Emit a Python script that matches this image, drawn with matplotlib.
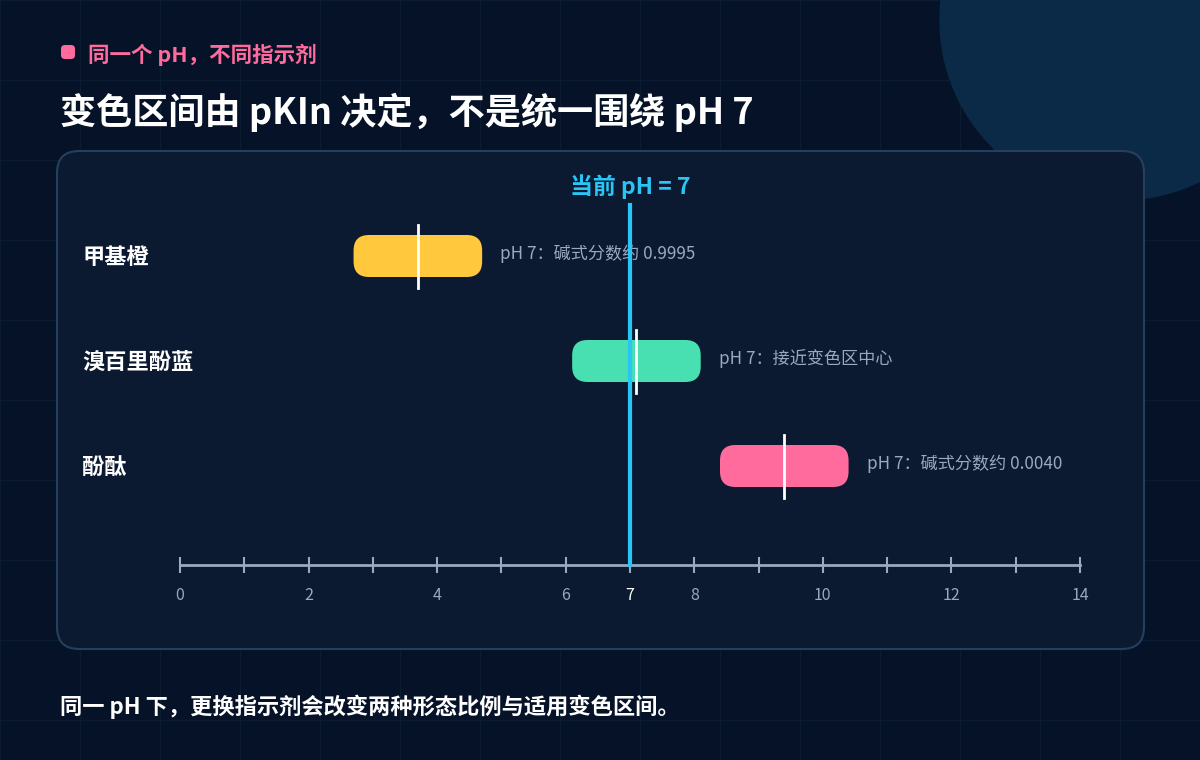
import matplotlib
matplotlib.use("Agg")
import matplotlib.pyplot as plt
from matplotlib.patches import FancyBboxPatch, Circle
import numpy as np

plt.rcParams['font.family'] = ['Noto Sans CJK SC', 'DejaVu Sans']

indicators = ["甲基橙", "溴百里酚蓝", "酚酞"]
pkin = [3.7, 7.1, 9.4]
range_lo = [2.7, 6.1, 8.4]
range_hi = [4.7, 8.1, 10.4]
colors = ["#ffc83d", "#48e0b0", "#ff6b9d"]
notes = ["pH 7：碱式分数约 0.9995", "pH 7：接近变色区中心", "pH 7：碱式分数约 0.0040"]
current_ph = 7
ticks = list(range(0, 15))
tick_labels = [str(t) if (t % 2 == 0 or t == 7) else "" for t in ticks]

W, H = 1200, 760
fig = plt.figure(figsize=(12, 7.6), dpi=100)
fig.patch.set_facecolor("#061227")

bg = fig.add_axes([0, 0, 1, 1])
bg.set_xlim(0, W); bg.set_ylim(H, 0); bg.axis("off")
for gx in np.arange(0, W + 1, 80):
    bg.axvline(gx, color="#0a1c30", lw=1, zorder=0)
for gy in np.arange(0, H + 1, 80):
    bg.axhline(gy, color="#0a1c30", lw=1, zorder=0)
bg.add_patch(Circle((1120, 20), 180, color="#0b2a48", zorder=1))
bg.add_patch(FancyBboxPatch((57, 151), 1087, 498, boxstyle="round,pad=0,rounding_size=22",
                            fc="#0b1a31", ec="#24405e", lw=1.5, zorder=2))
bg.add_patch(FancyBboxPatch((61, 45), 14, 14, boxstyle="round,pad=0,rounding_size=4",
                            fc="#ff6b9d", ec="none", zorder=3))
bg.text(88, 55, "同一个 pH，不同指示剂", color="#ff6b9d", fontsize=15.5, fontweight="bold", va="center")
bg.text(60, 112, "变色区间由 pKIn 决定，不是统一围绕 pH 7", color="white", fontsize=26,
        fontweight="bold", va="center")
bg.text(60, 707, "同一 pH 下，更换指示剂会改变两种形态比例与适用变色区间。", color="white",
        fontsize=16, fontweight="bold", va="center")
for i, name in enumerate(indicators):
    bg.text(82, 257 + 105 * i, name, color="white", fontsize=16, fontweight="bold", va="center", zorder=5)

# chart axes: x from 180 to 1080 px, y from 200 to 565 px
ax = fig.add_axes([180 / W, (H - 565) / H, 900 / W, 365 / H])
ax.set_facecolor("none")
ax.set_xlim(0, 14)
ax.set_ylim((565 - 256) / 105, -56 / 105)
for s in ["top", "left", "right"]:
    ax.spines[s].set_visible(False)
ax.spines["bottom"].set_color("#9aa8c0")
ax.spines["bottom"].set_linewidth(2)
ax.set_yticks([])
ax.set_xticks(ticks)
ax.set_xticklabels(tick_labels)
ax.tick_params(axis="x", direction="inout", length=12, width=1.5, color="#9aa8c0",
               labelcolor="#9aa8c0", labelsize=11.5, pad=10)
for lbl, t in zip(ax.get_xticklabels(), ticks):
    if t == 7:
        lbl.set_color("white")

aspect = (900 / 14) / 105
for i in range(len(indicators)):
    lo, hi = range_lo[i], range_hi[i]
    ax.add_patch(FancyBboxPatch((lo, i - 0.2), hi - lo, 0.4,
                                boxstyle="round,pad=0,rounding_size=0.24",
                                mutation_aspect=aspect, fc=colors[i], ec="none", zorder=3))
    ax.plot([pkin[i], pkin[i]], [i - 0.3, i + 0.3], color="white", lw=2, zorder=4)
    ax.text(hi + 0.28, i - 0.02, notes[i], color="#9aa8c0", fontsize=12.3, va="center")

ax.plot([current_ph, current_ph], [(565 - 256) / 105, (205 - 256) / 105],
        color="#29c5f6", lw=3, zorder=5, clip_on=False)
ax.text(current_ph, (187 - 256) / 105, f"当前 pH = {current_ph}", color="#29c5f6", fontsize=16.5,
        fontweight="bold", ha="center", va="center")

fig.savefig("out.png", dpi=100, facecolor=fig.get_facecolor())
